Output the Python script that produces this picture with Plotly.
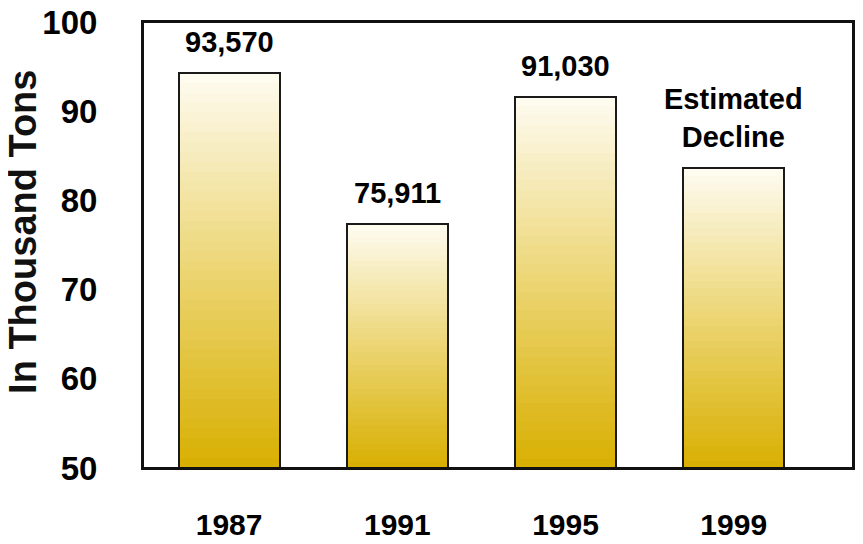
import plotly.graph_objects as go

# ---- data ----
years = ["1987", "1991", "1995", "1999"]
bar_values = [94.3, 77.3, 91.6, 83.6]          # bar heights
value_labels = ["93,570", "75,911", "91,030", "Estimated<br>Decline"]
y_ticks = [50, 60, 70, 80, 90, 100]

# ---- style ----
FONT = "Liberation Sans, Arial, Helvetica, sans-serif"
BASE = 50
N_LAYERS = 40
dark = (216, 175, 0)
mid = (236, 213, 115)
light = (254, 252, 242)


def lerp(a, b, t):
    return tuple(int(round(a[i] + (b[i] - a[i]) * t)) for i in range(3))


def grad_color(h):
    # h: 0 at bottom of bar, 1 at top
    if h < 0.5:
        c = lerp(dark, mid, h / 0.5)
    else:
        c = lerp(mid, light, (h - 0.5) / 0.5)
    return "rgb(%d,%d,%d)" % c


fig = go.Figure()
BAR_W = 0.60

# gradient: overlaid bars, tallest (lightest top) first, shorter darker ones on top
for k in range(N_LAYERS):
    frac = (N_LAYERS - k) / N_LAYERS
    fig.add_trace(go.Bar(
        x=years,
        y=[(v - BASE) * frac for v in bar_values],
        base=BASE,
        width=BAR_W,
        marker=dict(color=grad_color(frac - 0.5 / N_LAYERS), line=dict(width=0)),
        hoverinfo="skip",
        showlegend=False,
    ))

# outline bars
fig.add_trace(go.Bar(
    x=years,
    y=[v - BASE for v in bar_values],
    base=BASE,
    width=BAR_W,
    marker=dict(color="rgba(0,0,0,0)", line=dict(color="#1a1a1a", width=2)),
    showlegend=False,
))

# value labels above bars (category index used as x on the category axis)
for i, (v, lab) in enumerate(zip(bar_values, value_labels)):
    fig.add_annotation(
        x=i, y=v, text=lab, showarrow=False,
        xanchor="center", yanchor="bottom", yshift=13,
        font=dict(family=FONT, size=29, color="black", weight="bold"),
    )

# y-axis title
fig.add_annotation(
    xref="paper", yref="paper", x=-0.17, y=0.53,
    xanchor="center", yanchor="middle",
    text="In Thousand Tons", textangle=-90, showarrow=False,
    font=dict(family=FONT, size=38, color="#111", weight="bold"),
)

# plot frame
fig.add_shape(
    type="rect", xref="paper", yref="paper", x0=0, x1=1, y0=0, y1=1,
    line=dict(color="#111", width=2), fillcolor="rgba(0,0,0,0)", layer="above",
)

# page body has an 8px margin: keep the whole page inside the 863x544 window
fig.update_layout(
    width=847, height=528,
    margin=dict(l=135, r=2, t=14, b=68, autoexpand=False),
    barmode="overlay",
    bargap=0,
    plot_bgcolor="white",
    paper_bgcolor="white",
    showlegend=False,
    xaxis=dict(
        type="category",
        range=[-0.512, 3.709],
        automargin=False,
        showline=True, mirror=True, linecolor="#111", linewidth=2,
        showgrid=False, ticks="",
        ticklabelstandoff=29,
        ticklabeloverflow="allow",
        tickfont=dict(family=FONT, size=30, color="black", weight="bold"),
    ),
    yaxis=dict(
        range=[BASE, 100],
        tickvals=y_ticks,
        automargin=False,
        showline=True, mirror=True, linecolor="#111", linewidth=2,
        showgrid=False, zeroline=False, ticks="",
        ticklabelstandoff=37,
        ticklabeloverflow="allow",
        tickfont=dict(family=FONT, size=33, color="black", weight="bold"),
    ),
)

fig.write_html("out.html")
